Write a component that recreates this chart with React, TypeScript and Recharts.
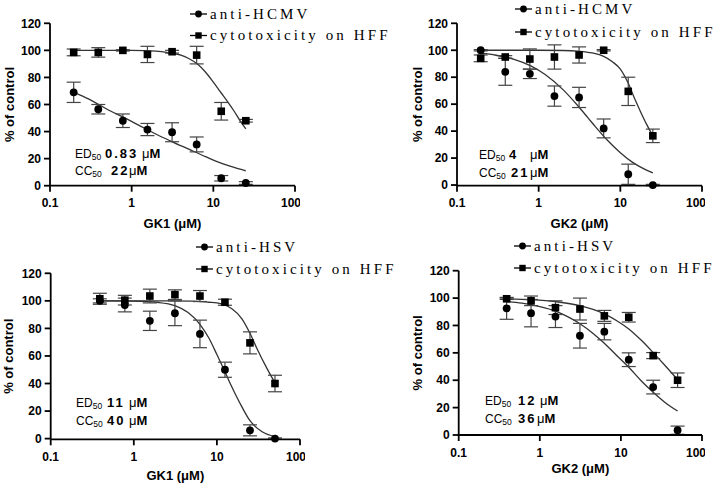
import React from 'react';
import { ComposedChart, XAxis, YAxis, Scatter, Line, ErrorBar } from 'recharts';

// ---------- data ----------
const dosesTop = [0.195, 0.39, 0.78, 1.56, 3.125, 6.25, 12.5, 25];
const dosesBottom = [0.39, 0.78, 1.56, 3.125, 6.25, 12.5, 25, 50];

const xTicks = [0.1, 1, 10, 100];
const yTicks = [0, 20, 40, 60, 80, 100, 120];

// Panel 1: GK1, anti-HCMV
const gk1HcmvAnti = [69, 56.5, 48, 41.5, 39.5, 30.5, 5.5, 2];
const gk1HcmvAntiErr = [7.5, 3.5, 5, 4.5, 7, 5.5, 2, 1];
const gk1HcmvCyto = [98.5, 98.5, 100, 97, 99, 96.5, 55, 48];
const gk1HcmvCytoErr = [2.5, 3.5, 0.5, 6, 1, 6.5, 6.5, 1];
const gk1HcmvAntiFitX = [0.195, 0.3, 0.5, 0.8, 1.2, 2, 3, 5, 8, 12, 18, 25];
const gk1HcmvAntiFitY = [69, 64, 56.5, 50.5, 45, 38, 33, 27, 21.5, 17, 13.5, 11];
const gk1HcmvCytoFitX = [0.195, 0.5, 1, 2, 3, 4, 5, 6.5, 8, 10, 12.5, 15, 18, 21, 25];
const gk1HcmvCytoFitY = [100, 100, 100, 99.5, 98, 96.5, 94, 89.5, 84, 76.5, 68.5, 62, 55, 48.5, 42];

// Panel 2: GK2, anti-HCMV
const gk2HcmvAnti = [100, 84, 82.5, 66, 65, 42, 8, 0];
const gk2HcmvAntiErr = [0.5, 10, 3.5, 7.5, 7.5, 7, 7.5, 0.5];
const gk2HcmvCyto = [94, 95, 93.5, 95, 96.5, 100, 69.5, 36.5];
const gk2HcmvCytoErr = [2.5, 1, 7.5, 9, 6, 0.5, 10.5, 5];
const gk2HcmvAntiFitX = [0.195, 0.3, 0.5, 0.8, 1.2, 2, 3, 4, 5, 7, 10, 14, 20, 25];
const gk2HcmvAntiFitY = [97.8, 96.3, 93.2, 88.4, 82, 70.6, 59, 50, 43, 33, 24, 17, 11.6, 9];
const gk2HcmvCytoFitX = [0.195, 1, 2, 3, 4.5, 6.25, 8, 10, 12.5, 15, 17.5, 21, 25];
const gk2HcmvCytoFitY = [100, 100, 99.8, 99.3, 98, 95.5, 91.5, 86, 75.5, 64, 55, 45, 36.5];

// Panel 3: GK1, anti-HSV
const gk1HsvAnti = [100, 97, 85.5, 91, 76, 50, 6, 0];
const gk1HsvAntiErr = [1.5, 5, 7, 9, 10, 5.5, 4, 0.5];
const gk1HsvCyto = [101.5, 100.5, 103.5, 104.5, 103.5, 99, 69.5, 40];
const gk1HsvCytoErr = [4, 3.5, 5, 3.5, 4, 2.2, 8, 6];
const gk1HsvAntiFitX = [0.39, 1, 2, 3.125, 4.5, 6.25, 8, 10, 12.5, 15, 20, 25, 35, 50];
const gk1HsvAntiFitY = [100, 99.8, 98.8, 96.5, 91.5, 83, 73, 61, 48.5, 38, 23, 13, 5, 1.5];
const gk1HsvCytoFitX = [0.39, 2, 5, 8, 10, 12.5, 15, 20, 25, 30, 40, 50];
const gk1HsvCytoFitY = [100, 100, 99.8, 99, 98.5, 97, 94.5, 87, 76.5, 66, 51, 40.5];

// Panel 4: GK2, anti-HSV
const gk2HsvAnti = [92.5, 89, 86.5, 72.5, 75.5, 55, 35, 3.5];
const gk2HsvAntiErr = [8, 10, 8, 9, 6, 5, 5, 3];
const gk2HsvCyto = [99.5, 98, 93, 92, 87, 86, 58, 40];
const gk2HsvCytoErr = [0.5, 3.5, 5, 8, 4, 3.5, 2.2, 5.3];
const gk2HsvAntiFitX = [0.39, 0.6, 1, 1.56, 2.2, 3.125, 4.5, 6.25, 9, 12.5, 18, 25, 35, 50];
const gk2HsvAntiFitY = [97.5, 96.3, 93.8, 90.5, 86.5, 81.3, 74.4, 67, 57.7, 49.5, 39.3, 31.2, 23.8, 17.5];
const gk2HsvCytoFitX = [0.39, 0.8, 1.56, 3.125, 6.25, 9, 12.5, 18, 25, 35, 50];
const gk2HsvCytoFitY = [99.5, 98.8, 97.4, 94.5, 88.5, 83.3, 77.5, 69, 60.2, 50.8, 40.5];

// ---------- helpers ----------
const pts = (xs: number[], ys: number[], es?: number[]) =>
  xs.map((x, i) => ({ x, y: ys[i], e: es ? es[i] : 0 }));

const SANS = '"Liberation Sans", Arial, sans-serif';
const SERIF = '"Liberation Serif", "Times New Roman", serif';

const CircleShape = (p: any) => <circle cx={p.cx} cy={p.cy} r={3.9} fill="#000" />;
const SquareShape = (p: any) => <rect x={p.cx - 3.8} y={p.cy - 3.8} width={7.6} height={7.6} fill="#000" />;

type PanelProps = {
  left: number; top: number; width: number; height: number;
  margin: { top: number; right: number; bottom: number; left: number };
  yAxisWidth: number; xAxisHeight: number;
  yLabelOffset: number; xLabelOffset: number; xLabel: string;
  doses: number[];
  anti: number[]; antiErr: number[]; cyto: number[]; cytoErr: number[];
  antiFitX: number[]; antiFitY: number[]; cytoFitX: number[]; cytoFitY: number[];
};

const axisStroke = { stroke: '#000', strokeWidth: 1.8 };
const tickStyle = { fontFamily: SANS, fontSize: 12, fontWeight: 700, fill: '#000' };

function Panel(p: PanelProps) {
  return (
    <div style={{ position: 'absolute', left: p.left, top: p.top }}>
      <ComposedChart width={p.width} height={p.height} margin={p.margin}>
        <XAxis
          dataKey="x" type="number" scale="log" domain={[0.1, 100]} ticks={xTicks}
          allowDataOverflow height={p.xAxisHeight}
          axisLine={axisStroke} tickLine={axisStroke} tickSize={6} tickMargin={7}
          tick={tickStyle}
          label={{ value: p.xLabel, position: 'insideBottom', offset: p.xLabelOffset,
            style: { fontFamily: SANS, fontSize: 13, fontWeight: 700, fill: '#000' } }}
        />
        <YAxis
          type="number" domain={[0, 120]} ticks={yTicks} width={p.yAxisWidth}
          axisLine={axisStroke} tickLine={axisStroke} tickSize={6} tickMargin={3}
          tick={tickStyle}
          label={{ value: '% of control', angle: -90, position: 'insideLeft', offset: p.yLabelOffset,
            style: { textAnchor: 'middle', fontFamily: SANS, fontSize: 13, fontWeight: 700, fill: '#000' } }}
        />
        <Line data={pts(p.antiFitX, p.antiFitY)} dataKey="y" type="monotone" stroke="#333"
          strokeWidth={1.3} dot={false} activeDot={false} isAnimationActive={false} />
        <Line data={pts(p.cytoFitX, p.cytoFitY)} dataKey="y" type="monotone" stroke="#333"
          strokeWidth={1.3} dot={false} activeDot={false} isAnimationActive={false} />
        <Scatter data={pts(p.doses, p.anti, p.antiErr)} dataKey="y" shape={CircleShape} isAnimationActive={false}>
          <ErrorBar dataKey="e" direction="y" width={7} stroke="#444" strokeWidth={1.2} />
        </Scatter>
        <Scatter data={pts(p.doses, p.cyto, p.cytoErr)} dataKey="y" shape={SquareShape} isAnimationActive={false}>
          <ErrorBar dataKey="e" direction="y" width={7} stroke="#444" strokeWidth={1.2} />
        </Scatter>
      </ComposedChart>
    </div>
  );
}

function LegendRow({ x, y, kind, text }: { x: number; y: number; kind: 'c' | 's'; text: string }) {
  // x: icon left, y: icon centre line
  return (
    <g>
      <line x1={x} y1={y} x2={x + 17} y2={y} stroke="#000" strokeWidth={1.3} />
      {kind === 'c'
        ? <circle cx={x + 8.5} cy={y} r={3.4} fill="#000" />
        : <rect x={x + 5.3} y={y - 3.2} width={6.4} height={6.4} fill="#000" />}
      <text x={x + 20} y={y + 4.6} fontFamily={SERIF} fontSize={15} letterSpacing={3.1} fill="#000">{text}</text>
    </g>
  );
}

function Annot({ x, y, label, value, valueX, umX }: { x: number; y: number; label: string; value: string; valueX: number; umX: number }) {
  return (
    <g fill="#000">
      <text x={x} y={y} fontFamily={SANS} fontSize={12}>
        {label}
        <tspan fontSize={8.5} dy={2}>50</tspan>
      </text>
      <text x={valueX} y={y} fontFamily={SANS} fontSize={13} fontWeight={700} letterSpacing={2}>{value}</text>
      <text x={umX} y={y} fontFamily={SANS} fontSize={13}>
        μ<tspan fontWeight={700}>M</tspan>
      </text>
    </g>
  );
}

export default function App() {
  return (
    <div style={{ position: 'absolute', left: 0, top: 0, width: 717, height: 485, background: '#fff', overflow: 'hidden' }}>
      <Panel left={0} top={0} width={300} height={240}
        margin={{ top: 23.3, right: 5, bottom: 0, left: 0 }} yAxisWidth={50} xAxisHeight={54.3}
        yLabelOffset={9} xLabelOffset={12} xLabel="GK1 (μM)" doses={dosesTop}
        anti={gk1HcmvAnti} antiErr={gk1HcmvAntiErr} cyto={gk1HcmvCyto} cytoErr={gk1HcmvCytoErr}
        antiFitX={gk1HcmvAntiFitX} antiFitY={gk1HcmvAntiFitY} cytoFitX={gk1HcmvCytoFitX} cytoFitY={gk1HcmvCytoFitY} />
      <Panel left={400} top={0} width={305} height={240}
        margin={{ top: 23.3, right: 3, bottom: 0, left: 0 }} yAxisWidth={57} xAxisHeight={54.3}
        yLabelOffset={17} xLabelOffset={12} xLabel="GK2 (μM)" doses={dosesTop}
        anti={gk2HcmvAnti} antiErr={gk2HcmvAntiErr} cyto={gk2HcmvCyto} cytoErr={gk2HcmvCytoErr}
        antiFitX={gk2HcmvAntiFitX} antiFitY={gk2HcmvAntiFitY} cytoFitX={gk2HcmvCytoFitX} cytoFitY={gk2HcmvCytoFitY} />
      <Panel left={0} top={245} width={305} height={240}
        margin={{ top: 28.3, right: 5, bottom: 0, left: 0 }} yAxisWidth={50.7} xAxisHeight={45.7}
        yLabelOffset={8.5} xLabelOffset={5} xLabel="GK1 (μM)" doses={dosesBottom}
        anti={gk1HsvAnti} antiErr={gk1HsvAntiErr} cyto={gk1HsvCyto} cytoErr={gk1HsvCytoErr}
        antiFitX={gk1HsvAntiFitX} antiFitY={gk1HsvAntiFitY} cytoFitX={gk1HsvCytoFitX} cytoFitY={gk1HsvCytoFitY} />
      <Panel left={400} top={245} width={305} height={240}
        margin={{ top: 25.7, right: 3, bottom: 0, left: 0 }} yAxisWidth={58.7} xAxisHeight={50}
        yLabelOffset={17} xLabelOffset={12} xLabel="GK2 (μM)" doses={dosesBottom}
        anti={gk2HsvAnti} antiErr={gk2HsvAntiErr} cyto={gk2HsvCyto} cytoErr={gk2HsvCytoErr}
        antiFitX={gk2HsvAntiFitX} antiFitY={gk2HsvAntiFitY} cytoFitX={gk2HsvCytoFitX} cytoFitY={gk2HsvCytoFitY} />

      <svg width={717} height={485} style={{ position: 'absolute', left: 0, top: 0, pointerEvents: 'none' }}>
        <LegendRow x={190} y={14} kind="c" text="anti-HCMV" />
        <LegendRow x={190} y={35.5} kind="s" text="cytotoxicity on HFF" />
        <LegendRow x={515} y={9} kind="c" text="anti-HCMV" />
        <LegendRow x={515} y={32} kind="s" text="cytotoxicity on HFF" />
        <LegendRow x={196} y={247} kind="c" text="anti-HSV" />
        <LegendRow x={196} y={269} kind="s" text="cytotoxicity on HFF" />
        <LegendRow x={514} y={246} kind="c" text="anti-HSV" />
        <LegendRow x={514} y={268} kind="s" text="cytotoxicity on HFF" />

        <Annot x={75} y={158} label="ED" value="0.83" valueX={105} umX={142} />
        <Annot x={75} y={175} label="CC" value="22" valueX={111} umX={129} />
        <Annot x={479} y={159} label="ED" value="4" valueX={509} umX={530} />
        <Annot x={479} y={177} label="CC" value="21" valueX={511} umX={530} />
        <Annot x={76} y={407} label="ED" value="11" valueX={107} umX={129} />
        <Annot x={76} y={425} label="CC" value="40" valueX={107} umX={129} />
        <Annot x={485} y={405} label="ED" value="12" valueX={518} umX={540} />
        <Annot x={485} y={423} label="CC" value="36" valueX={518} umX={537} />
      </svg>
    </div>
  );
}
